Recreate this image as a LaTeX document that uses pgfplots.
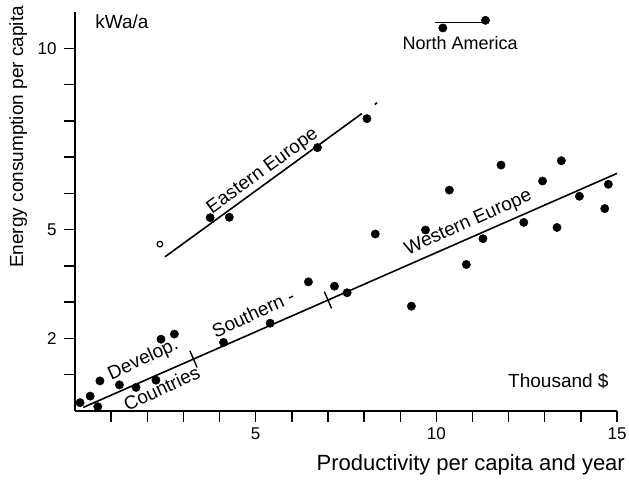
\documentclass[border=0pt]{standalone}
\usepackage{fontspec}
\setmainfont{Liberation Sans}
\usepackage{pgfplots}
\pgfplotsset{compat=1.18}
\begin{document}
\begin{tikzpicture}
\useasboundingbox (0,0) rectangle (629pt,486pt);
\begin{axis}[
  at={(75pt,75pt)}, anchor=south west,
  scale only axis, width=542pt, height=399pt,
  xmin=0, xmax=15, ymin=0, ymax=11,
  axis lines*=left,
  axis line style={-, line width=1.6pt},
  tick align=outside,
  major tick length=11pt, minor tick length=11pt,
  every tick/.style={black, line width=1.4pt},
  xtick={5,10,15}, minor xtick={1,2,3,4,6,7,8,9,11,12,13,14},
  ytick={2,5,10}, minor ytick={1,3,4,6,7,8,9},
  ticklabel style={font=\fontsize{17}{20}\selectfont},
  xticklabel style={yshift=-2pt},
  yticklabel style={xshift=-4pt},
  /pgf/number format/assume math mode=true,
  clip=false,
  every axis plot/.append style={black},
]
% fitted lines
\addplot[no marks, line width=1.6pt] coordinates {(0.23,0.10) (15.0,6.55)};
\addplot[no marks, line width=1.6pt] coordinates {(2.49,4.25) (7.94,8.20)};
\addplot[no marks, line width=1.6pt] coordinates {(8.30,8.45) (8.36,8.50)};
\addplot[no marks, line width=1.6pt] coordinates {(9.97,10.71) (11.45,10.71)};
% cross ticks on the line
\addplot[no marks, line width=1.4pt] coordinates {(3.18,1.66) (3.38,1.20)};
\addplot[no marks, line width=1.4pt] coordinates {(6.90,3.29) (7.10,2.83)};

% developing countries
\addplot[only marks, mark=*, mark size=4.2pt] coordinates {
  (0.14,0.23) (0.42,0.41) (0.63,0.12) (0.69,0.83) (1.23,0.72)
  (1.69,0.65) (2.24,0.85) (2.38,1.98) (2.75,2.12)
};
% southern europe
\addplot[only marks, mark=*, mark size=4.2pt] coordinates {
  (4.11,1.89) (5.40,2.42) (6.46,3.56) (7.18,3.44) (7.53,3.26)
};
% western europe
\addplot[only marks, mark=*, mark size=4.2pt] coordinates {
  (9.31,2.89) (9.70,4.99) (10.36,6.09) (10.83,4.04) (11.29,4.75)
  (11.79,6.78) (12.42,5.20) (12.94,6.34) (13.34,5.06) (13.46,6.90)
  (13.96,5.92) (14.66,5.58) (14.76,6.25) (8.31,4.88)
};
% eastern europe
\addplot[only marks, mark=*, mark size=4.2pt] coordinates {
  (3.74,5.33) (4.27,5.34) (6.71,7.26) (8.08,8.06)
};
\addplot[only marks, mark=o, mark size=2.8pt, line width=1.2pt] coordinates {(2.35,4.60)};
% north america
\addplot[only marks, mark=*, mark size=4.2pt] coordinates {(10.18,10.56) (11.36,10.77)};

\node[font=\fontsize{18}{20}\selectfont] at (axis cs:10.66,10.15) {North America};
\node[font=\fontsize{19}{22}\selectfont, rotate=36] at (axis cs:5.20,6.60) {Eastern Europe};
\node[font=\fontsize{19}{22}\selectfont, rotate=24] at (axis cs:10.89,5.18) {Western Europe};
\node[font=\fontsize{19}{22}\selectfont, rotate=25] at (axis cs:4.93,2.69) {Southern -};
\node[font=\fontsize{19}{22}\selectfont, rotate=25] at (axis cs:1.89,1.41) {Develop.};
\node[font=\fontsize{19}{22}\selectfont, rotate=25] at (axis cs:2.40,0.63) {Countries};

\node[font=\fontsize{19}{22}\selectfont, anchor=west] at (axis description cs:0.031,0.975) {kWa/a};
\node[font=\fontsize{19}{22}\selectfont, anchor=east] at (axis description cs:0.991,0.075) {Thousand \$};
\node[font=\fontsize{22}{24}\selectfont, anchor=east] at (axis description cs:1.021,-0.135) {Productivity per capita and year};
\node[font=\fontsize{19}{22}\selectfont, rotate=90] at (axis description cs:-0.105,0.687) {Energy consumption per capita};
\end{axis}
\end{tikzpicture}
\end{document}
